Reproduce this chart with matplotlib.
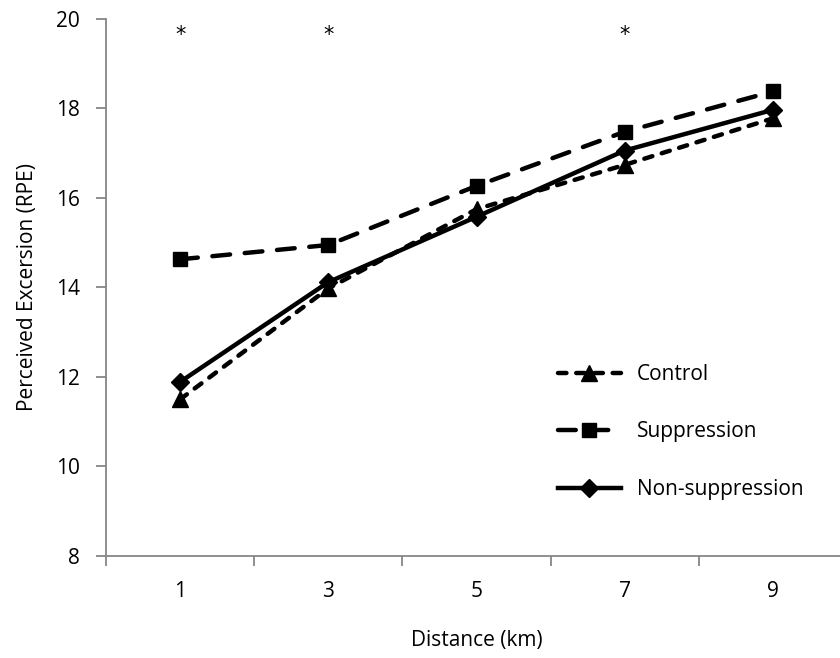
import matplotlib
matplotlib.use("Agg")
import matplotlib.pyplot as plt

categories = ["1", "3", "5", "7", "9"]
control = [11.5, 13.98, 15.75, 16.74, 17.78]
suppression = [14.63, 14.95, 16.27, 17.48, 18.38]
non_suppression = [11.89, 14.12, 15.58, 17.06, 17.97]
sig_idx = [0, 1, 3]
sig_y = 19.64
yticks = [8, 10, 12, 14, 16, 18, 20]

plt.rcParams['font.family'] = ['Open Sans', 'DejaVu Sans']
FS = 15

fig = plt.figure(figsize=(8.4, 6.58), dpi=100)
ax = fig.add_axes([106/840, 1-556/658, (847-106)/840, (556-19)/658])

x = list(range(len(categories)))
lw = 3.2
ax.plot(x, control, color='black', lw=lw, linestyle=(0, (1.9, 2.2)), dash_capstyle='round',
        marker='^', ms=11, label='Control')
ax.plot(x, suppression, color='black', lw=lw, linestyle=(0, (4.0, 3.3)), dash_capstyle='round',
        marker='s', ms=10, label='Suppression')
ax.plot(x, non_suppression, color='black', lw=lw, linestyle='-', marker='D', ms=9.5,
        label='Non-suppression')

for i in sig_idx:
    ax.text(x[i], sig_y, '*', ha='center', va='center', fontsize=15, family='DejaVu Sans')

ax.set_xlim(-0.5, len(categories) - 0.5)
ax.set_ylim(8, 20)
ax.set_yticks(yticks)
ax.set_yticklabels([str(v) for v in yticks], fontsize=FS)
ax.set_xticks([i - 0.5 for i in range(len(categories) + 1)])
ax.set_xticklabels([])
ax.set_xticks(x, minor=True)
ax.set_xticklabels(categories, minor=True, fontsize=FS)
ax.tick_params(axis='x', which='minor', length=0, pad=18)
ax.tick_params(axis='x', which='major', length=7, width=1.3, color='#868686', direction='out')
ax.tick_params(axis='y', length=7, width=1.3, color='#868686', direction='out', pad=12)

for s in ['top', 'right']:
    ax.spines[s].set_visible(False)
for s in ['left', 'bottom']:
    ax.spines[s].set_color('#868686')
    ax.spines[s].set_linewidth(1.3)

ax.set_xlabel('Distance (km)', fontsize=FS, labelpad=20)
ax.set_ylabel('Perceived Excersion (RPE)', fontsize=FS, labelpad=13)

ax.legend(loc='center left', bbox_to_anchor=(558/840, 1-432/658), bbox_transform=fig.transFigure,
          frameon=False, fontsize=FS, handlelength=3.0, handletextpad=0.8, labelspacing=1.75,
          borderpad=0, borderaxespad=0)

fig.savefig('out.png', dpi=100)
